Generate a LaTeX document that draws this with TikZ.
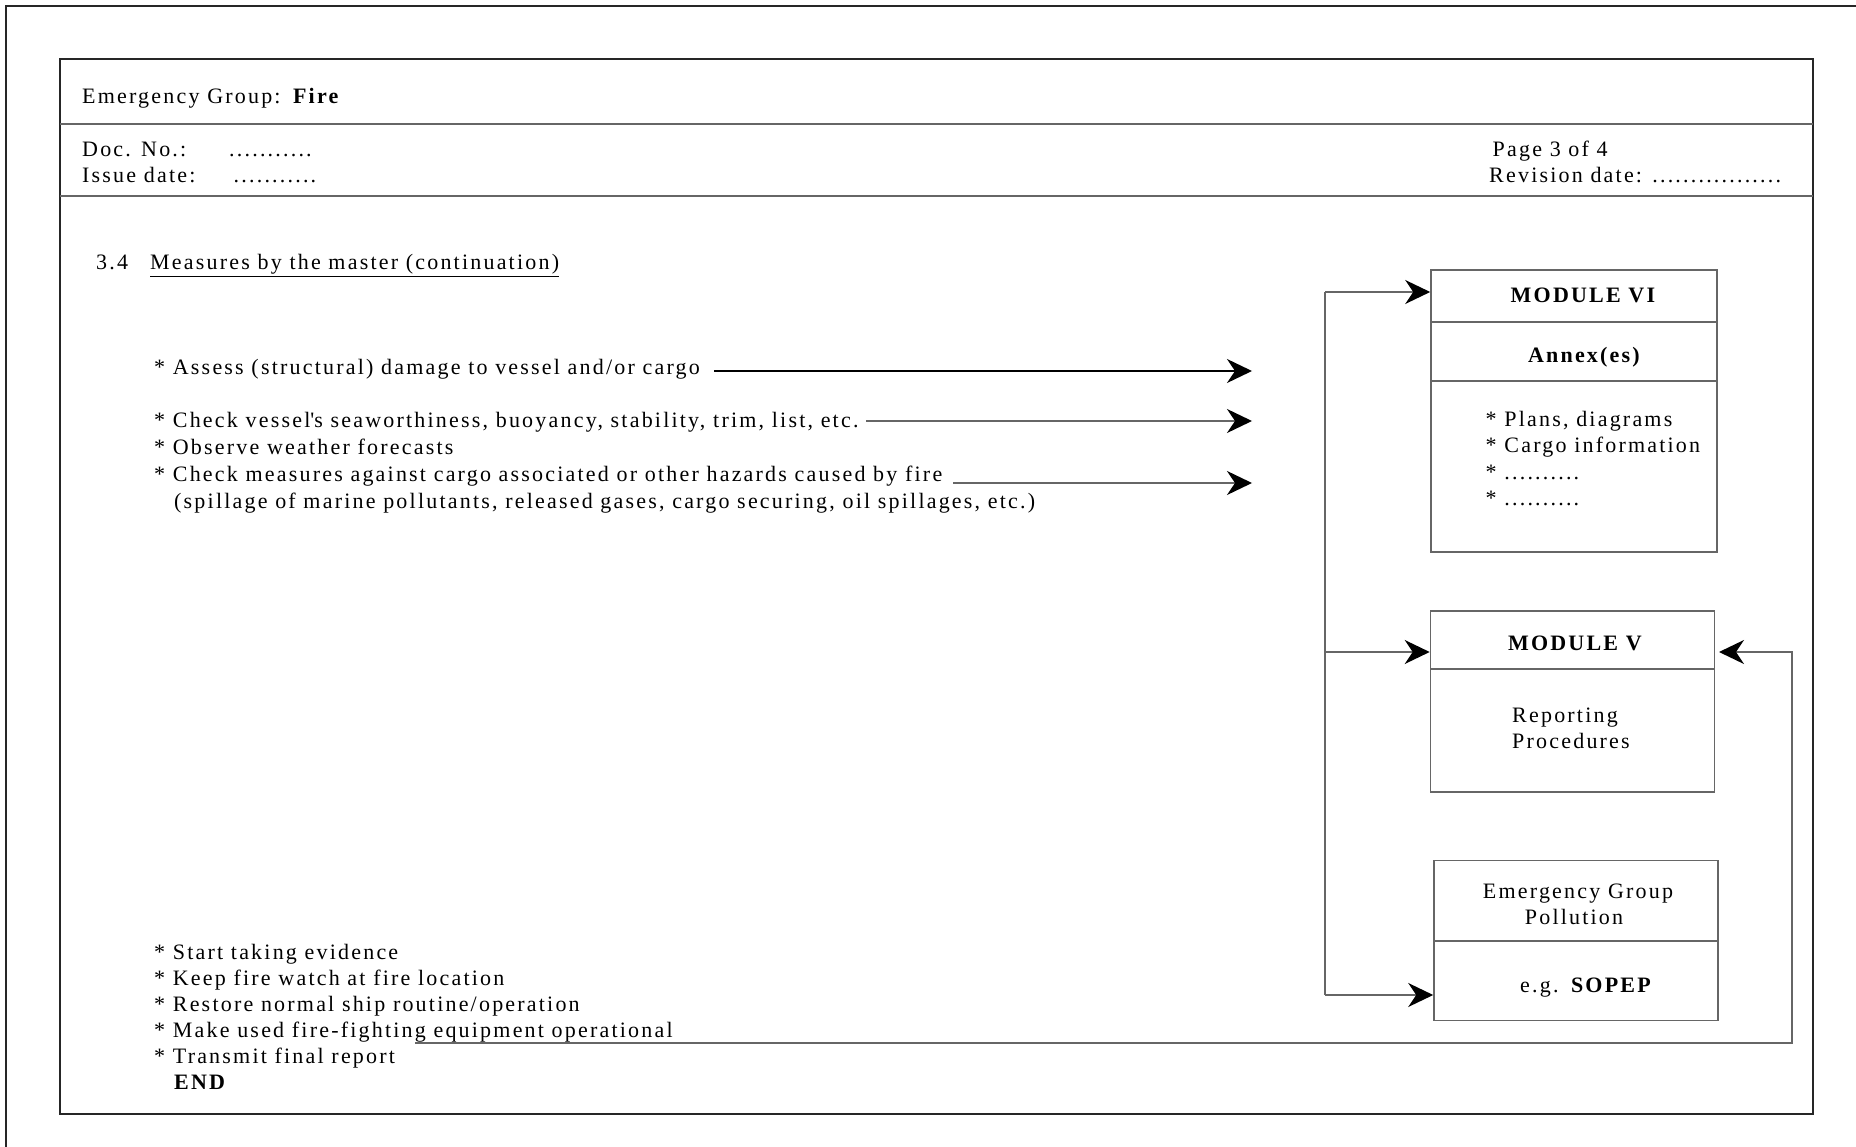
\documentclass[tikz,border=0pt]{standalone}
\usepackage{fontspec}
\setmainfont{Liberation Serif}[LetterSpace=10]
\usetikzlibrary{arrows.meta}
\definecolor{lgray}{gray}{0.4}
\tikzset{
  txt/.style={anchor=base west, inner sep=0pt, font=\fontsize{22}{26.4}\selectfont},
  ctxt/.style={anchor=base, inner sep=0pt, font=\fontsize{22}{26.4}\selectfont},
  frame/.style={line width=1.6pt, black!85},
  divl/.style={line width=1.6pt, lgray},
  boxst/.style={draw=lgray, line width=1.6pt, inner sep=0pt, rectangle},
  arr/.style={line width=1.6pt, -{Stealth[length=25pt,width=24pt,inset=8pt,color=black]}},
}
\begin{document}
\begin{tikzpicture}[x=1pt,y=-1pt]
\useasboundingbox (0,0) rectangle (1856,1147);
% outer frame (partly visible)
\draw[frame] (6,1147) -- (6,6) -- (1856,6);
% inner frame
\draw[frame] (60,59) rectangle (1813,1114);
\draw[divl] (60,124) -- (1813,124);
\draw[divl] (60,196) -- (1813,196);

% header
\node[txt] (eg) at (82,104) {Emergency Group: \textbf{Fire}};
\node[txt] (docno) at (82,157) {Doc. No.:};
\node[txt] (docdots) at (229,157) {...........};
\node[txt] (issue) at (82,183) {Issue date:};
\node[txt] (issuedots) at (233.5,183) {...........};
\node[txt] (page) at (1492.5,157) {Page 3 of 4};
\node[txt] (rev) at (1489,183) {Revision date: .................};

% section title
\node[txt] (secno) at (96,270) {3.4};
\node[txt] (sectitle) at (150,270) {\underline{Measures by the master (continuation)}};

% middle items
\node[txt] (assess) at (154,375) {* Assess (structural) damage to vessel and/or cargo};
\node[txt] (check1) at (154,428) {* Check vessel\textquotesingle s seaworthiness, buoyancy, stability, trim, list, etc.};
\node[txt] (observe) at (154,455) {* Observe weather forecasts};
\node[txt] (check2) at (154,481.5) {* Check measures against cargo associated or other hazards caused by fire};
\node[txt] (spill) at (174,508) {(spillage of marine pollutants, released gases, cargo securing, oil spillages, etc.)};

\coordinate (c1s) at (714,371);
\coordinate (c1e) at (1252,371);
\coordinate (c2s) at (866,421);
\coordinate (c2e) at (1252,421);
\coordinate (c3s) at (953,483);
\coordinate (c3e) at (1252,483);
\draw[arr, black] (c1s) -- (c1e);
\draw[arr, lgray] (c2s) -- (c2e);
\draw[arr, lgray] (c3s) -- (c3e);

% bottom items
\node[txt] (start) at (154,959) {* Start taking evidence};
\node[txt] (keep) at (154,985) {* Keep fire watch at fire location};
\node[txt] (restore) at (154,1011) {* Restore normal ship routine/operation};
\node[txt] (make) at (154,1037) {* Make used fire-fighting equipment operational};
\node[txt] (transmit) at (154,1063) {* Transmit final report};
\node[txt] (endtxt) at (174,1089) {\textbf{END}};

% MODULE VI box
\node[boxst, minimum width=286pt, minimum height=282pt] (m6) at (1574,411) {};
\draw[divl] (1431,322) -- (1717,322);
\draw[divl] (1431,381) -- (1717,381);
\node[ctxt] (m6title) at (1584,303) {\textbf{MODULE VI}};
\node[ctxt] (annex) at (1585,363) {\textbf{Annex(es)}};
\node[txt] (plans) at (1485.5,427) {* Plans, diagrams};
\node[txt] (cargo) at (1485.5,453) {* Cargo information};
\node[txt] (dotsa) at (1485.5,479) {* ..........};
\node[txt] (dotsb) at (1485.5,505) {* ..........};

% MODULE V box
\node[boxst, minimum width=284pt, minimum height=181pt] (m5) at (1572.5,701.5) {};
\draw[divl] (1430.5,669) -- (1714.5,669);
\node[ctxt] (m5title) at (1576,650) {\textbf{MODULE V}};
\node[txt] (reporting) at (1512,722) {Reporting};
\node[txt] (procedures) at (1512,748) {Procedures};

% Emergency Group Pollution box
\node[boxst, minimum width=284pt, minimum height=160pt] (sop) at (1576,940.5) {};
\draw[divl] (1434,940.7) -- (1718,940.7);
\node[ctxt] (egp1) at (1578,898) {Emergency Group};
\node[ctxt] (egp2) at (1574,924) {Pollution};
\node[txt] (sopep) at (1520,992) {e.g. \textbf{SOPEP}};

% left bus
\coordinate (busTop) at (1325,292);
\coordinate (busMid) at (1325,652);
\coordinate (busBot) at (1325,995);
\draw[line width=1.6pt, lgray] (busTop) -- (busBot);
\draw[arr, lgray] (busTop) -- (m6.west |- busTop);
\draw[arr, lgray] (busMid) -- (m5.west |- busMid);
\draw[arr, lgray] (busBot) -- (sop.west |- busBot);

% return line to MODULE V
\coordinate (retS) at (415,1043);
\coordinate (retC) at (1792,1043);
\coordinate (retT) at (1719,652);
\draw[arr, lgray] (retS) -- (retC) |- (retT);
\end{tikzpicture}
\end{document}
